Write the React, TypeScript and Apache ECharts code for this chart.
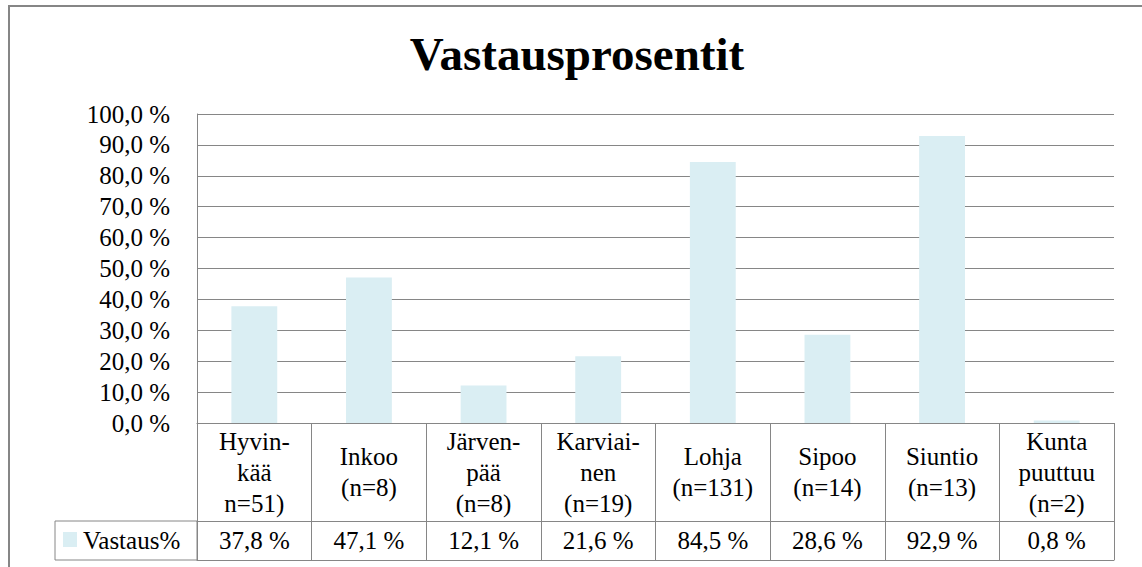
import React, { useEffect, useRef } from "react";
import * as echarts from "echarts";

const title = "Vastausprosentit";
const seriesName = "Vastaus%";
const categories = [
  "Hyvin-\nkää\nn=51)",
  "Inkoo\n(n=8)",
  "Järven-\npää\n(n=8)",
  "Karviai-\nnen\n(n=19)",
  "Lohja\n(n=131)",
  "Sipoo\n(n=14)",
  "Siuntio\n(n=13)",
  "Kunta\npuuttuu\n(n=2)",
];
const values = [37.8, 47.1, 12.1, 21.6, 84.5, 28.6, 92.9, 0.8];

const FONT = "Liberation Serif";
const GRAY = "#868686";
const BAR = "#DAEEF3";

const fmt = (v: number) => v.toFixed(1).replace(".", ",") + " %";

export default function App() {
  const ref = useRef<HTMLDivElement>(null);
  useEffect(() => {
    if (!ref.current) return;
    const chart = echarts.init(ref.current, null, { renderer: "svg" });
    const gridLeft = 197;
    const gridTop = 114;
    const gridW = 917;
    const gridH = 309;
    const catRowH = 98;
    const valRowH = 39;
    const lbl = { fontFamily: FONT, fontSize: 25, color: "#000" };
    chart.setOption({
      animation: false,
      grid: { left: gridLeft, top: gridTop, width: gridW, height: gridH, containLabel: false },
      xAxis: [
        {
          type: "category",
          data: categories,
          position: "bottom",
          axisLine: { show: true, lineStyle: { color: GRAY, width: 1 } },
          axisTick: { show: true, interval: 0, length: catRowH, lineStyle: { color: GRAY, width: 1 } },
          axisLabel: {
            ...lbl,
            interval: 0,
            margin: catRowH / 2,
            verticalAlign: "middle",
            align: "center",
            lineHeight: 31,
          },
        },
        {
          type: "category",
          data: categories,
          position: "bottom",
          offset: catRowH,
          axisLine: { show: true, lineStyle: { color: GRAY, width: 1 } },
          axisTick: { show: true, interval: 0, length: valRowH, lineStyle: { color: GRAY, width: 1 } },
          axisLabel: {
            ...lbl,
            interval: 0,
            margin: valRowH / 2,
            verticalAlign: "middle",
            align: "center",
            formatter: (_: string, i: number) => fmt(values[i]),
          },
        },
        {
          type: "category",
          data: categories,
          position: "bottom",
          offset: catRowH + valRowH,
          axisLine: { show: true, lineStyle: { color: GRAY, width: 1 } },
          axisTick: { show: false },
          axisLabel: { show: false },
        },
      ],
      yAxis: {
        type: "value",
        min: 0,
        max: 100,
        interval: 10,
        axisLine: { show: true, lineStyle: { color: GRAY, width: 1 } },
        axisTick: { show: false },
        splitLine: { show: true, lineStyle: { color: GRAY, width: 1 } },
        axisLabel: {
          ...lbl,
          margin: 27,
          formatter: (v: number) => fmt(v),
        },
      },
      series: [
        {
          name: seriesName,
          type: "bar",
          data: values,
          barWidth: "40%",
          itemStyle: { color: BAR },
          xAxisIndex: 0,
        },
      ],
      graphic: [
        {
          type: "rect",
          shape: { x: 9, y: 6, width: 1200, height: 600 },
          style: { fill: "none", stroke: GRAY, lineWidth: 2 },
          silent: true,
        },
        {
          type: "text",
          x: 577,
          y: 54,
          style: {
            text: title,
            fontFamily: FONT,
            fontSize: 47,
            fontWeight: "bold",
            fill: "#000",
            align: "center",
            verticalAlign: "middle",
          },
        },
        {
          type: "rect",
          shape: { x: 55, y: gridTop + gridH + catRowH, width: gridLeft - 55, height: valRowH },
          style: { fill: "none", stroke: GRAY, lineWidth: 1 },
        },
        {
          type: "rect",
          shape: { x: 63, y: gridTop + gridH + catRowH + 11, width: 14, height: 15 },
          style: { fill: BAR },
        },
        {
          type: "text",
          x: 83,
          y: gridTop + gridH + catRowH + valRowH / 2,
          style: {
            text: seriesName,
            fontFamily: FONT,
            fontSize: 25,
            fill: "#000",
            align: "left",
            verticalAlign: "middle",
          },
        },
      ],
    });
    return () => chart.dispose();
  }, []);
  return (
    <div>
      <div
        ref={ref}
        style={{ position: "absolute", left: 0, top: 0, width: 1142, height: 567, background: "#fff" }}
      />
    </div>
  );
}
